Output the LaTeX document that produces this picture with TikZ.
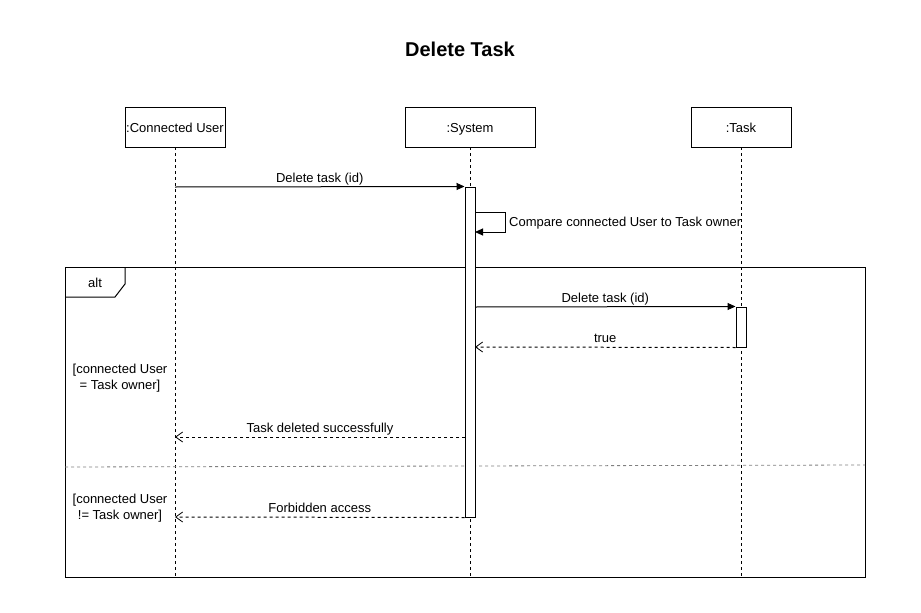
\documentclass[tikz,border=0pt]{standalone}
\usepackage{fontspec}
\setmainfont{Liberation Sans}
\usetikzlibrary{arrows.meta}
\begin{document}
\begin{tikzpicture}[x=1pt,y=-1pt,
  every node/.style={font=\fontsize{13}{15}\selectfont, inner sep=0pt},
  lifebox/.style={draw, line width=1pt, minimum height=40pt, fill=white, text height=12pt, text depth=1pt},
  lifeline/.style={dashed, dash pattern=on 3pt off 3pt, line width=0.9pt},
  actbox/.style={draw, line width=1pt, fill=white},
  msg/.style={line width=1pt, -{Triangle[length=8pt,width=7pt]}},
  retmsg/.style={line width=1pt, dashed, dash pattern=on 3pt off 3pt, -{Straight Barb[length=7pt,width=10pt,line width=0.8pt]}},
  lbl/.style={anchor=south, inner sep=0pt, text height=9.5pt, text depth=2.5pt, yshift=1.5pt},
  guard/.style={align=center, font=\fontsize{13}{16}\selectfont}]
\useasboundingbox (0,0) rectangle (921,613);
\fill[white] (0,0) rectangle (921,613);
\node[font=\bfseries\fontsize{20}{24}\selectfont] (title) at (460,49) {Delete Task};
% lifelines
\coordinate (uend) at (175,577);
\coordinate (send) at (470,577);
\coordinate (tend) at (741,577);
\draw[lifeline] (175,147) -- (uend);
\draw[lifeline] (470,147) -- (send);
\draw[lifeline] (741,147) -- (tend);
\node[lifebox, minimum width=100pt] (user) at (175,127) {:Connected User};
\node[lifebox, minimum width=130pt] (sys) at (470,127) {:System};
\node[lifebox, minimum width=100pt] (task) at (741,127) {:Task};
% alt frame
\draw[line width=1pt] (65,267) rectangle (865,577);
\draw[line width=1pt] (65,297) -- (115,297) -- (125,284) -- (125,267);
\node (alt) at (95,283) {alt};
\draw[gray, dashed, dash pattern=on 3pt off 3pt, line width=0.8pt] (65,467) -- (865,465);
% activations
\node[actbox, minimum width=10pt, minimum height=330pt] (sact) at (470,352) {};
\node[actbox, minimum width=10pt, minimum height=40pt] (tact) at (741,327) {};
% messages
\coordinate (u1) at (175,187);
\draw[msg] (u1) -- (sact.north west) node[midway, lbl] {Delete task (id)};
\coordinate (s1) at (475,212);
\coordinate (s2) at (475,232);
\draw[msg] (s1) -- (505,212) -- (505,232) -- (s2);
\node[anchor=west] (cmp) at (509,223.5) {Compare connected User to Task owner};
\coordinate (s3) at (475,307);
\draw[msg] (s3) -- (tact.north west) node[midway, lbl] {Delete task (id)};
\coordinate (s4) at (475,347);
\draw[retmsg] (tact.south west) -- (s4) node[midway, lbl] {true};
\node[guard] (g1) at (120,378.5) {[connected User\\= Task owner]};
\coordinate (s5) at (465,437);
\coordinate (u2) at (175,437);
\draw[retmsg] (s5) -- (u2) node[midway, lbl] {Task deleted successfully};
\node[guard] (g2) at (120,508.5) {[connected User\\!= Task owner]};
\coordinate (u3) at (175,517);
\draw[retmsg] (sact.south west) -- (u3) node[midway, lbl] {Forbidden access};
\end{tikzpicture}
\end{document}
